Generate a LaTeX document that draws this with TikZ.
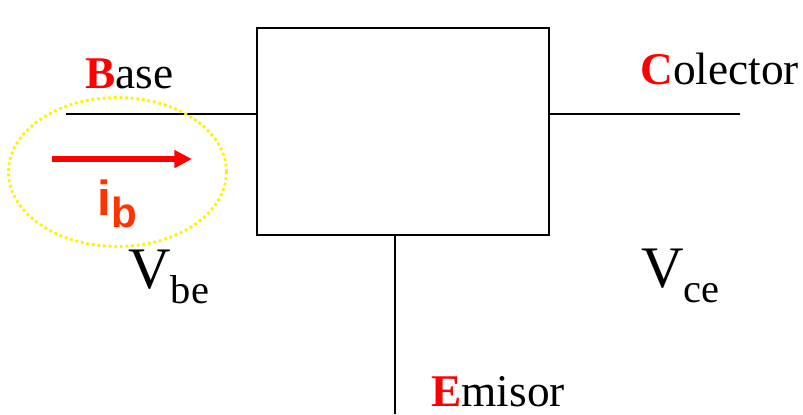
\documentclass[tikz,border=0pt]{standalone}
\usepackage{xcolor}
\usepackage{fontspec}
\setmainfont{Liberation Serif}
\newfontfamily\ibfont{Liberation Sans}
\usepackage{tikz}
\usetikzlibrary{positioning, arrows.meta, shapes.geometric}
\definecolor{ibred}{HTML}{FF3300}

\begin{document}
\begin{tikzpicture}[x=0.02cm, y=-0.02cm,
    wire/.style={line width=1pt},
    pinlabel/.style={anchor=base west, inner sep=0pt, font=\fontsize{25.8}{30}\selectfont},
    vlabel/.style={anchor=base west, inner sep=0pt, font=\fontsize{33.5}{36}\selectfont}]
    \useasboundingbox (0,0) rectangle (803,414);
    % transistor block
    \node (block) [draw, line width=1pt, minimum width=5.84cm, minimum height=4.14cm] at (403,131.5) {};
    \coordinate (basein) at (66,114);
    \coordinate (colout) at (740,114);
    \coordinate (emout) at (395,414);
    \draw[wire] (basein) -- (basein -| block.west);
    \draw[wire] (block.east |- colout) -- (colout);
    \draw[wire] (emout |- block.south) -- (emout);
    % labels
    \node (base) [pinlabel] at (85,88) {\textcolor{red}{\bfseries B}ase};
    \node (colector) [pinlabel] at (640,84) {\textcolor{red}{\bfseries C}olector};
    \node (emisor) [pinlabel] at (431,406) {\textcolor{red}{\bfseries E}misor};
    \node (vbe) [vlabel] at (128,288) {V{\fontsize{23}{25}\selectfont\raisebox{-9pt}{be}}};
    \node (vce) [vlabel] at (641,287) {V{\fontsize{23}{25}\selectfont\raisebox{-9pt}{ce}}};
    % base current
    \node (ibzone) [ellipse, draw=yellow, line width=1.6pt, dash pattern=on 1.6pt off 1.6pt, inner sep=0pt,
          minimum width=4.36cm, minimum height=2.98cm] at (117.5,172) {};
    \coordinate (ibstart) at (52,159);
    \coordinate (ibend) at (192,159);
    \draw[red, line width=3.4pt, -{Triangle[length=10pt, width=9.6pt]}] (ibstart) -- (ibend);
    \node (ib) [anchor=base west, inner sep=0pt, text=ibred, font=\ibfont\bfseries\fontsize{28}{30}\selectfont]
          at (97,215) {i\raisebox{-7pt}{\fontsize{24}{26}\selectfont b}};
\end{tikzpicture}
\end{document}
